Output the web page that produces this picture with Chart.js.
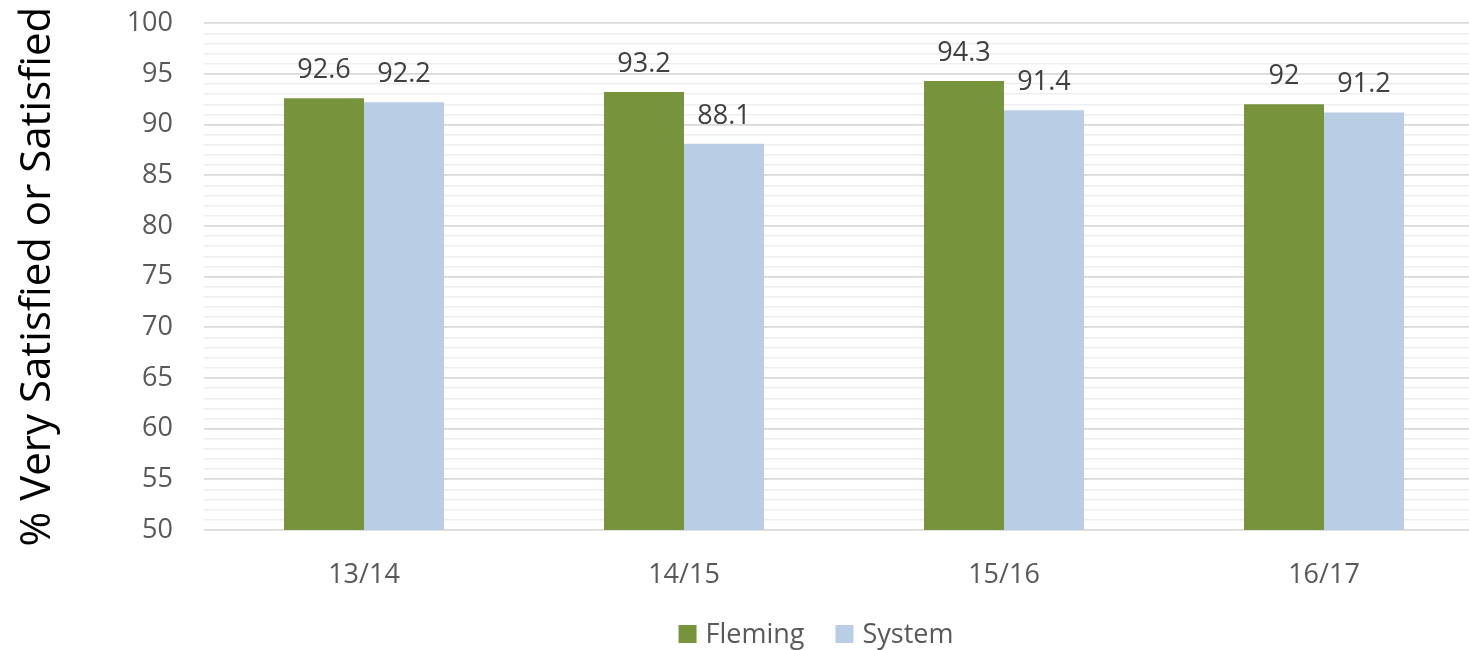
<!DOCTYPE html>
<html>
<head>
<meta charset="utf-8">
<script src="https://cdn.jsdelivr.net/npm/chart.js@4/dist/chart.umd.min.js"></script>
<style>
  html, body { margin: 0; padding: 0; background: #fff; overflow: hidden; }
  canvas { display: block; margin-top: -24px; }
</style>
</head>
<body>
<canvas id="chart" width="1500" height="674"></canvas>
<script>
const years = ["13/14", "14/15", "15/16", "16/17"];
const fleming = [92.6, 93.2, 94.3, 92];
const system = [92.2, 88.1, 91.4, 91.2];
const yTickLabels = [50, 55, 60, 65, 70, 75, 80, 85, 90, 95, 100];

const FONT = "'Open Sans', 'Noto Sans', sans-serif";

// value labels above each bar
const barLabels = {
  id: "bar_labels",
  afterDatasetsDraw: (chart) => {
    const ctx = chart.ctx;
    ctx.save();
    ctx.font = "27px " + FONT;
    ctx.fillStyle = "#404040";
    ctx.textAlign = "center";
    ctx.textBaseline = "alphabetic";
    chart.data.datasets.forEach((ds, i) => {
      chart.getDatasetMeta(i).data.forEach((bar, j) => {
        ctx.fillText(String(ds.data[j]), bar.x, bar.y - 20);
      });
    });
    ctx.restore();
  },
};

// legend drawn by hand, centred a little right of the plot like the original
const bottomLegend = {
  id: "bottom_legend",
  afterDraw: (chart) => {
    const ctx = chart.ctx;
    ctx.save();
    ctx.font = "27px " + FONT;
    ctx.textBaseline = "middle";
    const items = chart.data.datasets.map((ds) => ({
      label: ds.label,
      color: ds.backgroundColor,
      w: 18 + 9 + ctx.measureText(ds.label).width,
    }));
    const gap = 31;
    const total = items.reduce((s, it) => s + it.w, 0) + gap * (items.length - 1);
    let x = 816 - total / 2;
    const y = chart.chartArea.bottom + 104;
    items.forEach((it) => {
      ctx.fillStyle = it.color;
      ctx.fillRect(x, y - 9, 18, 18);
      ctx.fillStyle = "#595959";
      ctx.fillText(it.label, x + 27, y + 1);
      x += it.w + gap;
    });
    ctx.restore();
  },
};

Chart.defaults.font.family = FONT;
Chart.defaults.color = "#595959";

new Chart(document.getElementById("chart"), {
  type: "bar",
  data: {
    labels: years,
    datasets: [
      {
        label: "Fleming",
        data: fleming,
        backgroundColor: "#77933c",
      },
      {
        label: "System",
        data: system,
        backgroundColor: "#b9cde5",
      },
    ],
  },
  options: {
    responsive: false,
    animation: false,
    layout: { padding: { left: 9, right: 16, top: 0, bottom: 60 } },
    datasets: {
      bar: { categoryPercentage: 0.5, barPercentage: 1.0 },
    },
    scales: {
      x: {
        grid: { display: false },
        border: { display: false },
        afterFit: (scale) => {
          scale.height = 60;
        },
        ticks: { padding: 21, font: { size: 27 }, color: "#595959" },
      },
      y: {
        min: 50,
        max: 100,
        afterFit: (scale) => {
          scale.width = 195;
        },
        ticks: {
          stepSize: 1,
          autoSkip: false,
          padding: 31,
          font: { size: 27 },
          color: "#595959",
          callback: (v) => (yTickLabels.includes(v) ? String(v) : ""),
        },
        grid: {
          drawTicks: false,
          color: (c) => (yTickLabels.includes(c.tick.value) ? "#d9d9d9" : "#eeeeee"),
          lineWidth: (c) => (yTickLabels.includes(c.tick.value) ? 1.8 : 1.4),
        },
        border: { display: false },
        title: {
          display: true,
          text: "% Very Satisfied or Satisfied",
          color: "#000000",
          font: { size: 42 },
        },
      },
    },
    plugins: {
      legend: { display: false },
      tooltip: { enabled: false },
    },
  },
  plugins: [barLabels, bottomLegend],
});
</script>
</body>
</html>
